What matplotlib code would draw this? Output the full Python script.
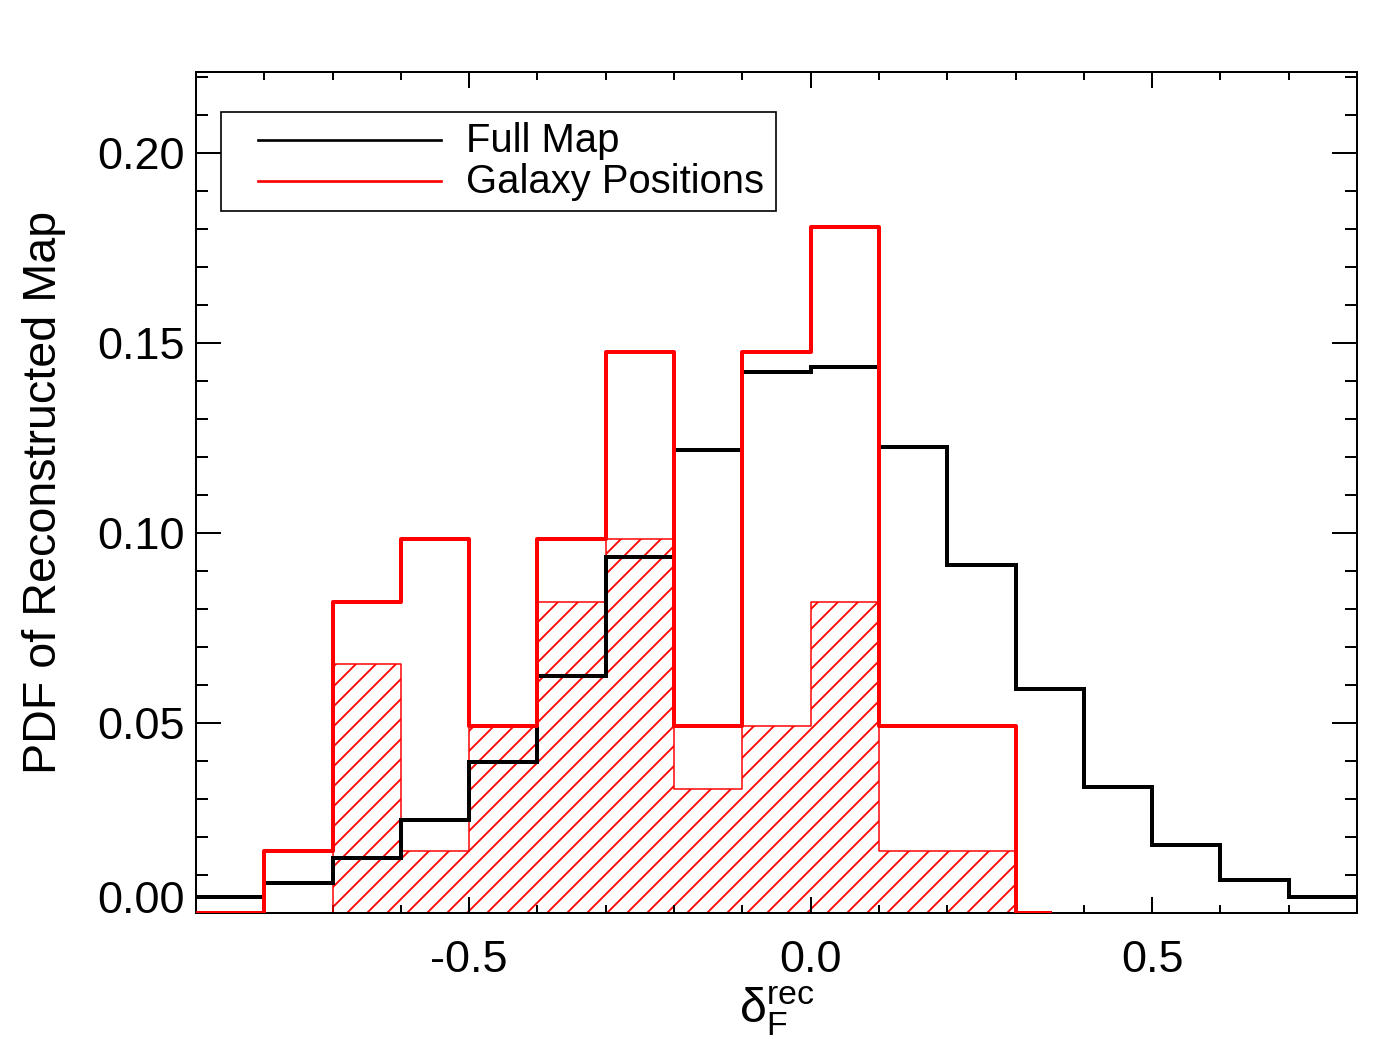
import matplotlib
matplotlib.use("Agg")
import matplotlib.pyplot as plt
from matplotlib.ticker import MultipleLocator, FormatStrFormatter
from matplotlib.lines import Line2D
from matplotlib.patches import Rectangle

# ---------------- data ----------------
# Full Map histogram (bin edges and PDF values)
full_edges = [-0.9, -0.8, -0.7, -0.6, -0.5, -0.4, -0.3, -0.2, -0.1, 0.0,
              0.1, 0.2, 0.3, 0.4, 0.5, 0.6, 0.7, 0.8]
full_map = [0.0042, 0.0078, 0.0145, 0.0246, 0.0397, 0.0625, 0.0936, 0.1220,
            0.1423, 0.1437, 0.1228, 0.0916, 0.0591, 0.0332, 0.0178, 0.0088, 0.0043]

# Galaxy Positions histogram (bin centres and PDF values)
galaxy_centers = [-0.95, -0.85, -0.75, -0.65, -0.55, -0.45, -0.35, -0.25,
                  -0.15, -0.05, 0.05, 0.15, 0.25, 0.35]
galaxy_pos = [0.0, 0.0, 0.0163, 0.0819, 0.0984, 0.0492, 0.0984, 0.1476,
              0.0492, 0.1476, 0.1806, 0.0492, 0.0492, 0.0]

# Hatched galaxy subset histogram (bin centres and PDF values)
subset_centers = [-0.75, -0.65, -0.55, -0.45, -0.35, -0.25, -0.15, -0.05,
                  0.05, 0.15, 0.25, 0.35]
subset_pos = [0.0, 0.0655, 0.0163, 0.0492, 0.0819, 0.0984, 0.0327, 0.0492,
              0.0819, 0.0163, 0.0163, 0.0]

legend_labels = ["Full Map", "Galaxy Positions"]
xlabel = r"$\delta_{F}^{rec}$"
ylabel = "PDF of Reconstructed Map"

# ---------------- style ----------------
plt.rcParams["font.family"] = ["Liberation Sans", "DejaVu Sans"]
plt.rcParams["mathtext.fontset"] = "custom"
plt.rcParams["mathtext.rm"] = "Liberation Sans"
plt.rcParams["mathtext.it"] = "Liberation Sans"
plt.rcParams["mathtext.default"] = "regular"
plt.rcParams["axes.unicode_minus"] = False
plt.rcParams["hatch.linewidth"] = 1.1

DPI = 120
fig = plt.figure(figsize=(1400 / DPI, 1039 / DPI), dpi=DPI)
ax = fig.add_axes([196 / 1400, 1 - 913 / 1039, (1357 - 196) / 1400, (913 - 72) / 1039])

# hatched fill for subset
ax.fill_between(subset_centers, subset_pos, step="mid", facecolor="none",
                edgecolor="red", hatch="//", linewidth=0, zorder=1)
ax.step(subset_centers, subset_pos, where="mid", color="red", lw=0.9, zorder=2)

# full map
ax.stairs(full_map, full_edges, baseline=None, color="black", lw=2.4, zorder=3)

# galaxy positions
ax.step(galaxy_centers, galaxy_pos, where="mid", color="red", lw=2.4, zorder=4)

ax.set_xlim(-0.9, 0.8)
ax.set_ylim(0.0, 0.2214)

ax.xaxis.set_major_locator(MultipleLocator(0.5))
ax.xaxis.set_minor_locator(MultipleLocator(0.1))
ax.xaxis.set_major_formatter(FormatStrFormatter("%.1f"))
ax.yaxis.set_major_locator(MultipleLocator(0.05))
ax.yaxis.set_minor_locator(MultipleLocator(0.01))
ax.yaxis.set_major_formatter(FormatStrFormatter("%.2f"))

ax.tick_params(which="both", direction="in", top=True, right=True,
               width=1.2, color="black", labelsize=27)
ax.tick_params(axis="x", which="major", length=9.6, pad=16)
ax.tick_params(axis="x", which="minor", length=4.8)
ax.tick_params(axis="y", which="major", length=15, pad=6.5)
ax.tick_params(axis="y", which="minor", length=7.2)
for sp in ax.spines.values():
    sp.set_linewidth(1.2)

ax.set_xlabel(xlabel, fontsize=29)
ax.set_ylabel(ylabel, fontsize=28)
ax.yaxis.set_label_coords(-0.112, 0.5)
ax.xaxis.set_label_coords(0.5, -0.085)

# legend box
def ax_x(px):
    return (px - 196) / 1161.0

def ax_y(py):
    return (913 - py) / 841.0

ax.add_patch(Rectangle((ax_x(221), ax_y(211)), ax_x(776) - ax_x(221), ax_y(112) - ax_y(211),
                       transform=ax.transAxes, facecolor="white", edgecolor="black",
                       lw=1.0, zorder=10))
for col, py, pb, lab in [("black", 140, 152, legend_labels[0]),
                         ("red", 181, 193, legend_labels[1])]:
    ax.add_line(Line2D([ax_x(258), ax_x(441)], [ax_y(py), ax_y(py)], color=col, lw=1.6,
                       transform=ax.transAxes, zorder=11))
    ax.text(ax_x(466), ax_y(pb), lab, transform=ax.transAxes, fontsize=24,
            ha="left", va="baseline", zorder=11)

# shift the 0.00 label up as in the reference
fig.canvas.draw()
for tick in ax.yaxis.get_major_ticks():
    if tick.label1.get_text() == "0.00":
        tick.label1.set_verticalalignment("baseline")

fig.savefig("out.png", dpi=DPI, facecolor="white")
